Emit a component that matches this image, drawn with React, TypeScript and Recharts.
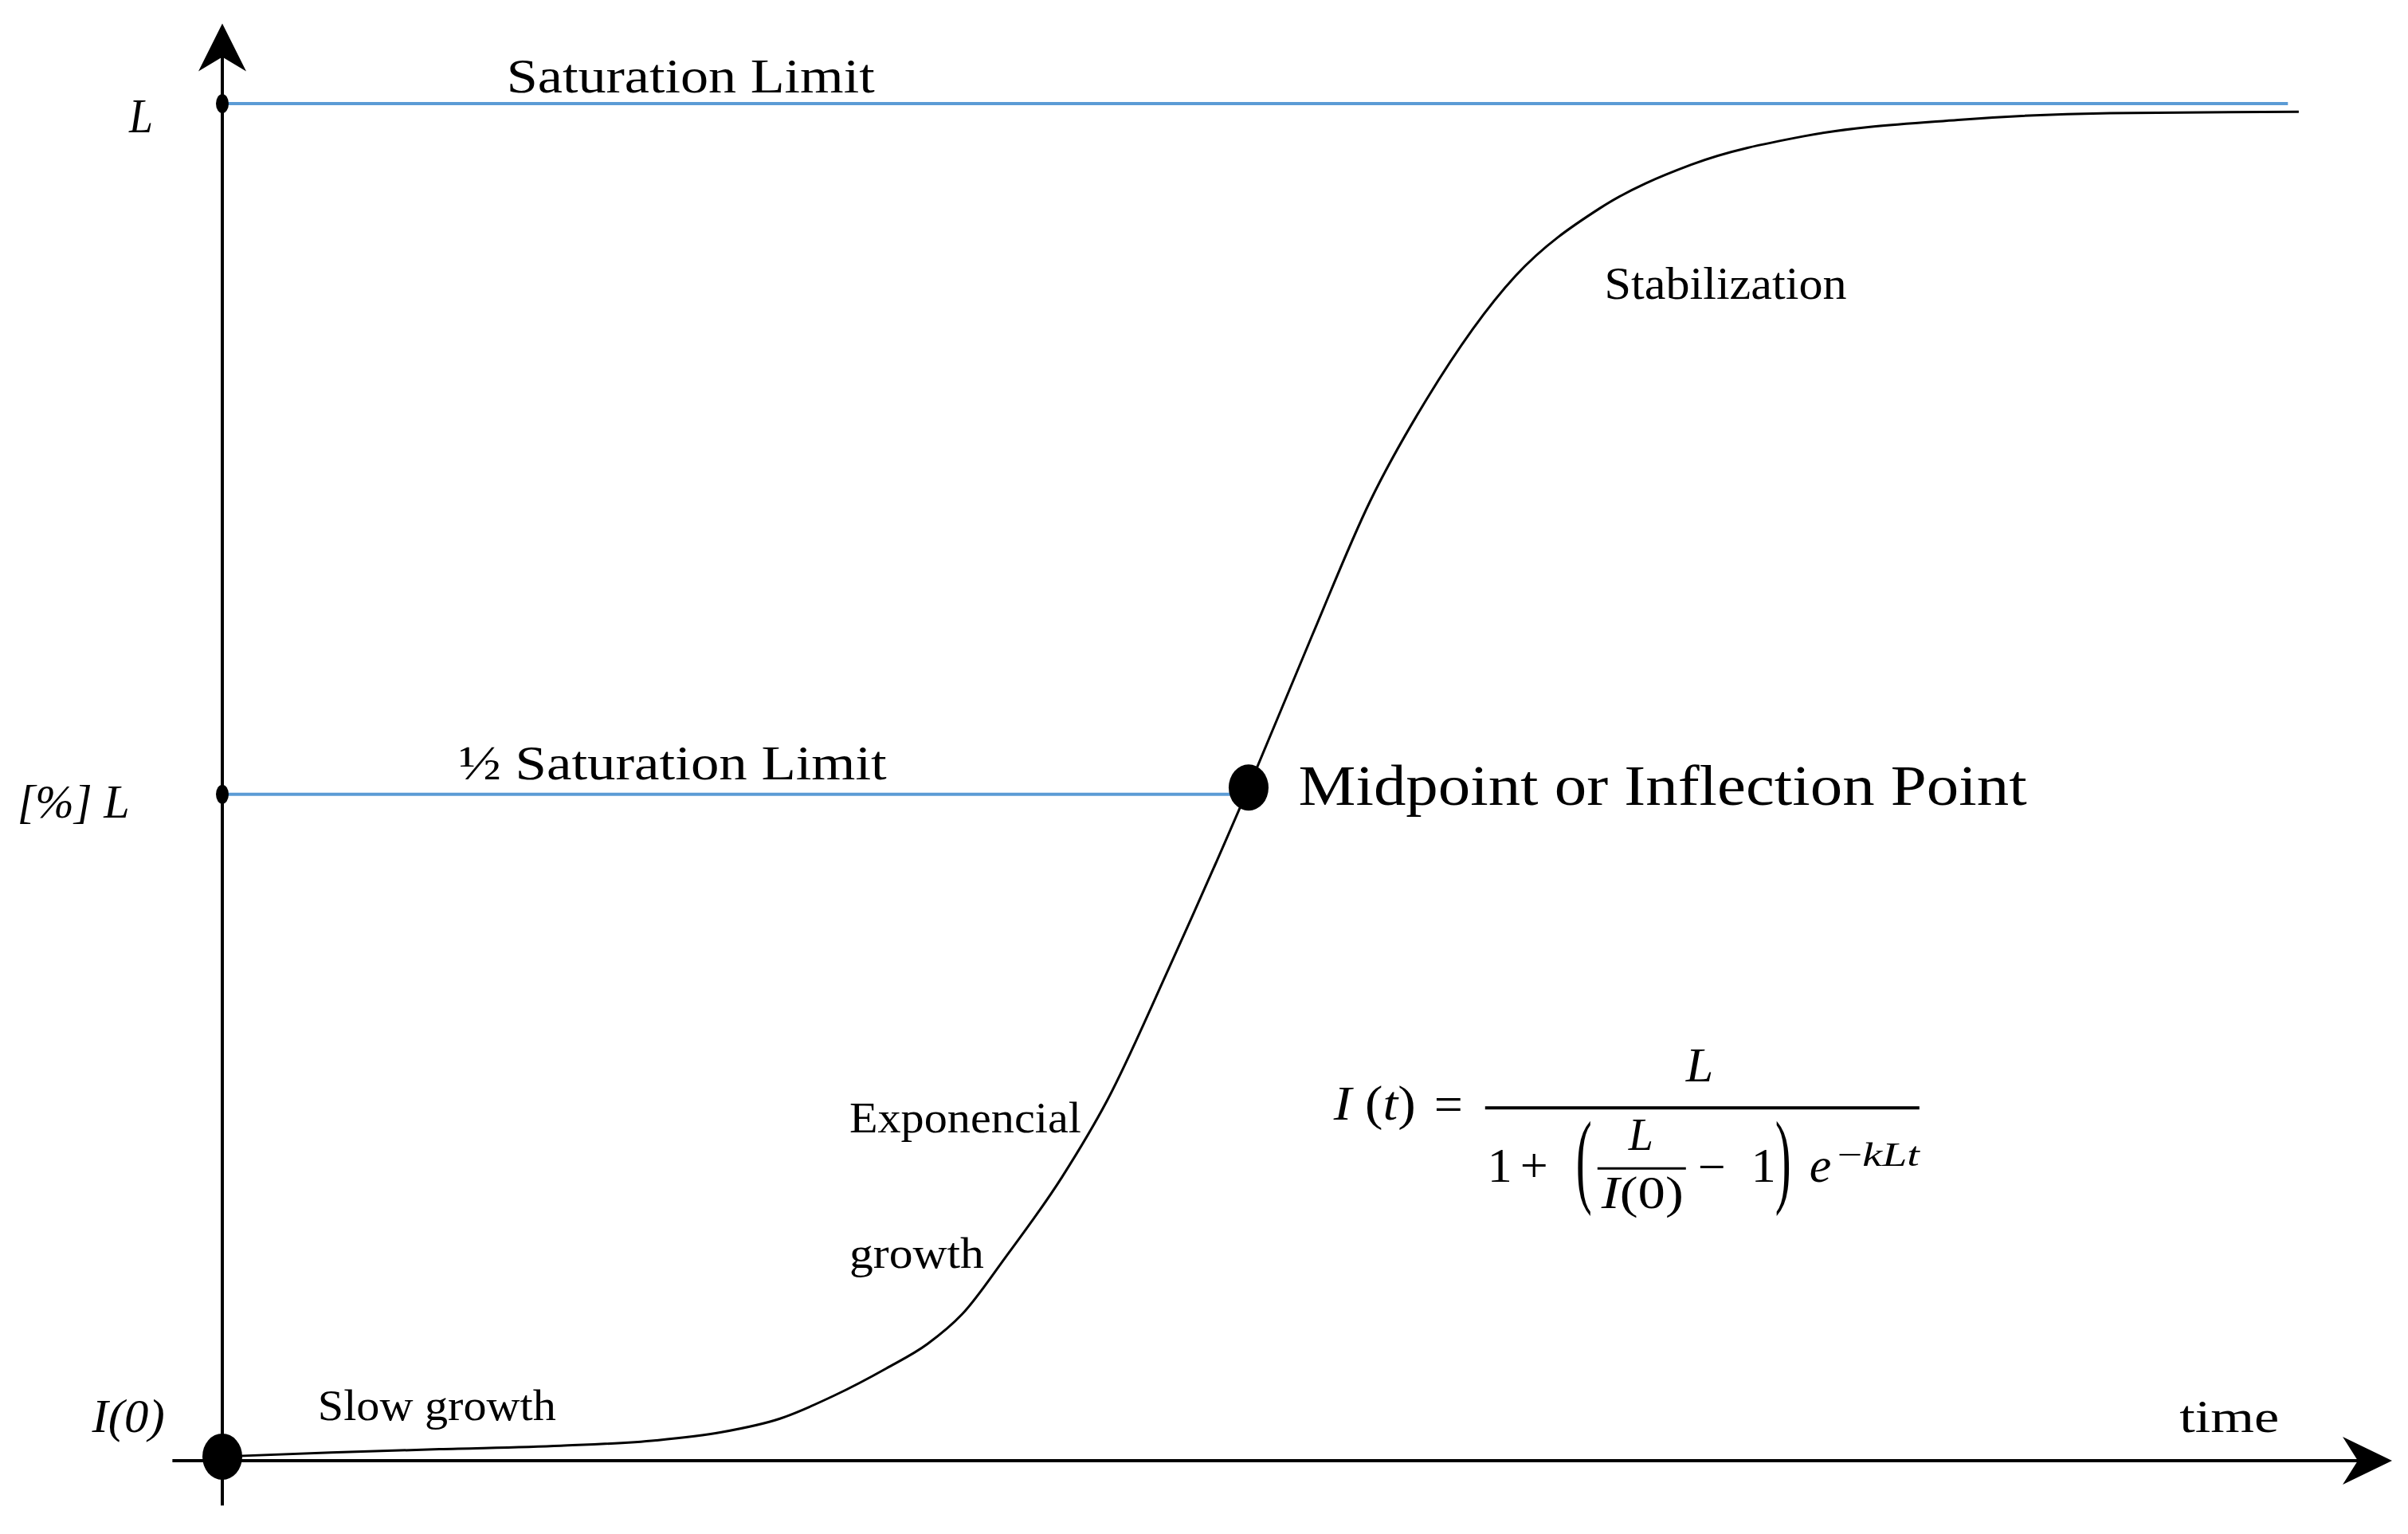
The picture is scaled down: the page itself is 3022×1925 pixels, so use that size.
import { ComposedChart, Line, XAxis, YAxis, ReferenceLine, ReferenceDot } from 'recharts';

// logistic growth sketch (L = 100)
const TIME = [0, 5, 10, 15.6, 20, 23, 25.7, 28.2, 30.6, 32.5, 34.1, 36.1, 38.7, 40.8, 43.6, 47.3, 50.2, 52.9, 55.5, 59.6, 63.5, 67.7, 72.9, 80, 87, 95.7];
const LEVEL = [0.3, 0.6, 0.85, 1.1, 1.5, 2.1, 3.1, 4.8, 6.8, 8.6, 10.8, 15, 20.9, 26.6, 36.2, 49.6, 60.7, 70.7, 78.2, 87.3, 92.3, 95.5, 97.6, 98.8, 99.3, 99.4];
const SATURATION = 100;
const HALF_SATURATION = 49.1;
const SATURATION_END = 95.2;
const MIDPOINT_INDEX = 15;
const AXIS_X = [-2.3, 100];
const AXIS_Y = [-3.3, 105.9];

const FONT = '"Liberation Serif", "Times New Roman", serif';
const BLUE = '#5B9BD5';

type Note = { text: string; x: number; y: number; size: number; width: number; italic?: boolean };

const NOTES: Note[] = [
  { text: 'Saturation Limit', x: 13.1, y: 100.8, size: 62, width: 462 },
  { text: '½ Saturation Limit', x: 10.9, y: 50.2, size: 62, width: 537 },
  { text: 'Midpoint or Inflection Point', x: 49.6, y: 48.3, size: 72, width: 914 },
  { text: 'Stabilization', x: 63.7, y: 85.6, size: 57, width: 304 },
  { text: 'Exponencial', x: 28.9, y: 24.2, size: 54, width: 291 },
  { text: 'growth', x: 28.9, y: 14.2, size: 54, width: 169 },
  { text: 'Slow growth', x: 4.4, y: 3.0, size: 55, width: 299 },
  { text: 'time', x: 90.2, y: 2.1, size: 56, width: 125 },
  { text: 'L', x: -4.3, y: 97.9, size: 62, width: 30, italic: true },
  { text: '[%] L', x: -9.45, y: 47.4, size: 60, width: 141, italic: true },
  { text: 'I(0)', x: -6.0, y: 2.1, size: 60, width: 91, italic: true },
];

const FORMULA_AT = { x: 58.2, y: 26.0 };

const data = TIME.map((t, i) => ({ t, level: LEVEL[i] }));

const noteShape = (n: Note) => (p: any) => (
  <text
    x={p.cx}
    y={p.cy}
    fontFamily={FONT}
    fontSize={n.size}
    fontStyle={n.italic ? 'italic' : 'normal'}
    textLength={n.width}
    lengthAdjust="spacingAndGlyphs"
    fill="#000"
  >
    {n.text}
  </text>
);

const blob = (rx: number, ry: number) => (p: any) => (
  <ellipse cx={p.cx} cy={p.cy} rx={rx} ry={ry} fill="#000" />
);

const arrowRight = (p: any) => (
  <polygon
    points={`${p.cx},${p.cy} ${p.cx - 62},${p.cy - 30} ${p.cx - 43},${p.cy} ${p.cx - 62},${p.cy + 30}`}
    fill="#000"
  />
);

const arrowUp = (p: any) => (
  <polygon
    points={`${p.cx},${p.cy} ${p.cx - 30},${p.cy + 60} ${p.cx},${p.cy + 42} ${p.cx + 30},${p.cy + 60}`}
    fill="#000"
  />
);

const formulaShape = (p: any) => {
  const t = (props: any, children: any) => (
    <text fontFamily={FONT} fill="#000" {...props}>
      {children}
    </text>
  );
  return (
    <g transform={`translate(${p.cx},${p.cy})`}>
      {t({ x: -190, y: 15, fontSize: 62, textLength: 103, lengthAdjust: 'spacingAndGlyphs' }, (
        <>
          <tspan fontStyle="italic">I</tspan>
          <tspan> (</tspan>
          <tspan fontStyle="italic">t</tspan>
          <tspan>)</tspan>
        </>
      ))}
      {t({ x: -64, y: 17, fontSize: 64 }, '=')}
      <line x1={0} y1={0} x2={545} y2={0} stroke="#000" strokeWidth={4} />
      {t({ x: 252, y: -33, fontSize: 62, fontStyle: 'italic' }, 'L')}
      {t({ x: 3, y: 93, fontSize: 62 }, '1')}
      {t({ x: 44, y: 93, fontSize: 62 }, '+')}
      {t({ transform: 'translate(114,108) scale(1,2.2)', fontSize: 60 }, '(')}
      {t({ x: 180, y: 53, fontSize: 56, fontStyle: 'italic' }, 'L')}
      <line x1={141} y1={76} x2={252} y2={76} stroke="#000" strokeWidth={3} />
      {t({ x: 146, y: 126, fontSize: 56, textLength: 103, lengthAdjust: 'spacingAndGlyphs' }, (
        <>
          <tspan fontStyle="italic">I</tspan>
          <tspan>(0)</tspan>
        </>
      ))}
      {t({ x: 267, y: 95, fontSize: 62 }, '−')}
      {t({ x: 334, y: 93, fontSize: 62 }, '1')}
      {t({ transform: 'translate(364,108) scale(1,2.2)', fontSize: 60 }, ')')}
      {t({ x: 407, y: 93, fontSize: 62, fontStyle: 'italic' }, 'e')}
      {t({ x: 442, y: 73, fontSize: 42, textLength: 103, lengthAdjust: 'spacingAndGlyphs' }, (
        <>
          <tspan>−</tspan>
          <tspan fontStyle="italic">kLt</tspan>
        </>
      ))}
    </g>
  );
};

export default function App() {
  const mid = data[MIDPOINT_INDEX];
  const start = data[0];
  return (
    <div style={{ position: 'absolute', left: 0, top: 0, width: 3022, height: 1925, background: '#fff' }}>
      <ComposedChart
        width={3022}
        height={1925}
        data={data}
        margin={{ top: 130, right: 20, left: 279, bottom: 92 }}
      >
        <XAxis dataKey="t" type="number" domain={[0, 100]} hide allowDataOverflow />
        <YAxis type="number" domain={[0, 100]} hide allowDataOverflow />

        <ReferenceLine
          segment={[{ x: AXIS_X[0], y: 0 }, { x: AXIS_X[1] - 1, y: 0 }]}
          stroke="#000"
          strokeWidth={4}
          ifOverflow="visible"
        />
        <ReferenceLine
          segment={[{ x: 0, y: AXIS_Y[0] }, { x: 0, y: AXIS_Y[1] - 2 }]}
          stroke="#000"
          strokeWidth={4}
          ifOverflow="visible"
        />
        <ReferenceDot x={AXIS_X[1]} y={0} ifOverflow="visible" shape={arrowRight} />
        <ReferenceDot x={0} y={AXIS_Y[1]} ifOverflow="visible" shape={arrowUp} />

        <ReferenceLine
          segment={[{ x: 0, y: SATURATION }, { x: SATURATION_END, y: SATURATION }]}
          stroke={BLUE}
          strokeWidth={4}
          ifOverflow="visible"
        />
        <ReferenceLine
          segment={[{ x: 0, y: HALF_SATURATION }, { x: mid.t, y: HALF_SATURATION }]}
          stroke={BLUE}
          strokeWidth={4}
          ifOverflow="visible"
        />
        <ReferenceDot x={0} y={SATURATION} ifOverflow="visible" shape={blob(8, 12)} />
        <ReferenceDot x={0} y={HALF_SATURATION} ifOverflow="visible" shape={blob(8, 12)} />

        <Line
          dataKey="level"
          type="monotone"
          stroke="#000"
          strokeWidth={3}
          dot={false}
          activeDot={false}
          isAnimationActive={false}
        />

        <ReferenceDot x={start.t} y={start.level} ifOverflow="visible" shape={blob(25, 29)} />
        <ReferenceDot x={mid.t} y={mid.level} ifOverflow="visible" shape={blob(25, 29)} />

        {NOTES.map((n) => (
          <ReferenceDot key={n.text} x={n.x} y={n.y} ifOverflow="visible" shape={noteShape(n)} />
        ))}
        <ReferenceDot x={FORMULA_AT.x} y={FORMULA_AT.y} ifOverflow="visible" shape={formulaShape} />
      </ComposedChart>
    </div>
  );
}
